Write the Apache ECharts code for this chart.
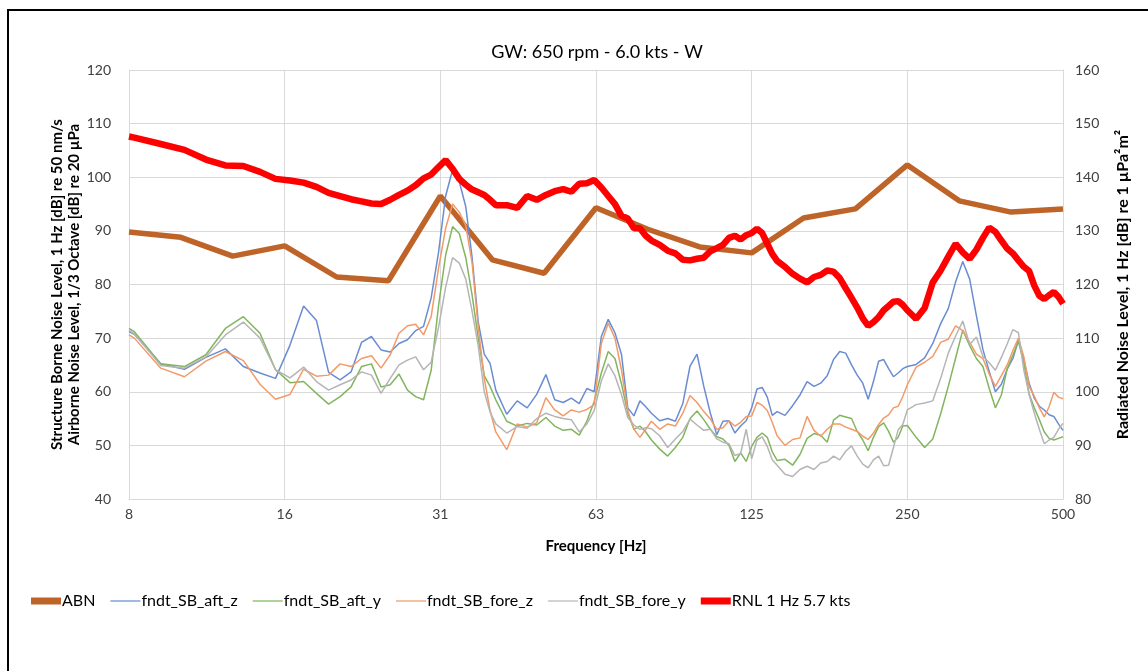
<!DOCTYPE html>
<html>
<head>
<meta charset="utf-8">
<script src="https://cdn.jsdelivr.net/npm/echarts@6/dist/echarts.min.js"></script>
<style>html,body{margin:0;padding:0;background:#fff}#c{width:1148px;height:671px}</style>
</head>
<body>
<div id="c"></div>
<script>
const tickLabels = ['8', '16', '31', '63', '125', '250', '500'];

const abnFreqs = [7.8125, 9.84, 12.4, 15.625, 19.7, 24.8, 31.25, 39.4, 49.6, 62.5, 78.7, 99.2, 125, 157.5, 198.4, 250, 315, 396.9, 500];
const abn = [89.8, 88.8, 85.3, 87.2, 81.4, 80.7, 96.5, 84.6, 82.1, 94.3, 90.3, 87.0, 85.9, 92.4, 94.1, 102.3, 95.6, 93.5, 94.1];

const freqs = [7.8125, 8, 9, 10, 11, 12, 13, 14, 15, 16, 17, 18, 19, 20, 21, 22, 23, 24, 25, 26, 27, 28, 29, 30,
  31, 32, 33, 34, 35, 36, 37, 38, 39, 40, 42, 44, 46, 48, 50, 52, 54, 56, 58, 60, 62, 64, 66, 68, 70, 72, 74, 76, 78, 80,
  83, 86, 89, 92, 95, 98, 101, 104, 107, 110, 113, 116, 119, 122, 125, 128, 131, 134, 137, 140,
  145, 150, 155, 160, 165, 170, 175, 180, 185, 190, 195, 200, 205, 210, 215, 220, 225, 230, 235, 240, 245, 250,
  260, 270, 280, 290, 300, 310, 320, 330, 340, 350, 360, 370, 380, 390, 400, 410, 420, 430, 440, 450, 460, 470, 480, 490, 500];

const aftZ = [71.2, 70.7, 65.2, 64.2, 66.4, 68.0, 64.7, 63.5, 62.5, 68.7, 76.0, 73.3, 63.6, 62.2, 63.7, 69.2, 70.3, 67.8, 67.4, 69.0, 69.7, 71.4, 72.2, 77.5,
  86.0, 96.5, 101.4, 99.2, 94.5, 85.0, 73.0, 67.0, 65.3, 60.3, 55.8, 58.3, 57.0, 59.5, 63.2, 58.5, 58.0, 58.8, 57.8, 60.6, 60.0, 70.3, 73.5, 71.0, 67.0, 57.0, 55.5, 58.3, 57.2, 56.0,
  54.6, 55.0, 54.5, 57.8, 64.8, 67.0, 61.0, 56.0, 52.0, 54.5, 54.6, 52.3, 53.6, 54.6, 57.0, 60.5, 60.8, 59.0, 55.6, 56.3,
  55.6, 57.4, 59.4, 61.9, 61.0, 61.6, 63.0, 66.0, 67.5, 67.2, 65.0, 63.1, 61.6, 58.6, 61.9, 65.7, 66.0, 64.3, 62.8, 63.5, 64.3, 64.7,
  65.1, 66.3, 69.0, 72.7, 75.5, 80.5, 84.3, 81.0, 74.2, 67.9, 63.8, 60.0, 61.4, 64.2, 66.2, 69.6, 66.0, 61.6, 58.8, 57.3, 56.6, 55.7, 55.4, 54.0, 52.8];

const aftY = [71.8, 71.2, 65.2, 64.7, 66.9, 71.8, 74.0, 70.9, 64.1, 61.7, 61.9, 59.7, 57.7, 59.1, 60.9, 64.7, 65.2, 60.9, 61.3, 63.3, 60.3, 59.1, 58.5, 64.0,
  76.0, 85.5, 90.8, 89.5, 85.0, 78.0, 70.0, 63.0, 61.0, 58.5, 54.5, 53.6, 54.1, 53.8, 55.2, 53.6, 52.8, 53.0, 51.9, 54.5, 58.2, 63.5, 67.5, 66.2, 61.5, 56.0, 53.0, 53.6, 52.5, 51.0,
  49.3, 48.0, 49.6, 51.5, 55.0, 56.4, 54.8, 53.0, 51.6, 51.2, 50.0, 47.0, 48.6, 47.0, 49.8, 51.5, 52.3, 51.5, 48.8, 47.2,
  47.4, 46.3, 48.3, 51.3, 52.2, 51.9, 50.6, 54.7, 55.6, 55.3, 55.0, 52.6, 51.0, 49.0, 51.5, 53.5, 54.2, 52.6, 50.6, 51.5, 53.6, 53.7,
  51.5, 49.6, 51.2, 55.9, 61.0, 66.3, 71.5, 68.6, 66.2, 64.7, 60.6, 57.0, 59.4, 64.3, 66.8, 69.4, 65.3, 59.6, 57.0, 54.8, 52.5, 51.3, 51.0, 51.3, 51.6];

const foreZ = [70.6, 70.0, 64.4, 62.8, 65.7, 67.5, 65.8, 61.4, 58.6, 59.5, 64.2, 62.9, 63.1, 65.2, 64.7, 66.2, 66.7, 64.4, 66.9, 70.9, 72.3, 72.6, 70.6, 74.0,
  83.0, 90.5, 95.0, 93.5, 91.0, 84.0, 72.0, 62.5, 56.5, 52.5, 49.2, 54.0, 53.4, 54.2, 58.9, 56.6, 55.5, 56.6, 56.2, 56.7, 57.6, 69.0, 72.8, 70.0, 64.1, 56.5, 53.0, 51.5, 53.0, 54.5,
  53.0, 54.0, 53.6, 56.0, 59.3, 58.0, 56.3, 54.9, 53.0, 53.3, 54.6, 53.6, 54.3, 55.4, 55.5, 58.0, 57.5, 56.5, 54.3, 51.8,
  50.0, 51.1, 51.4, 55.4, 52.8, 51.7, 53.0, 54.0, 54.0, 53.4, 53.0, 52.6, 51.7, 51.1, 52.3, 53.9, 55.1, 55.7, 57.0, 57.3, 59.1, 61.3,
  64.6, 65.5, 66.6, 69.2, 69.8, 72.3, 71.4, 69.2, 67.0, 66.2, 63.3, 61.0, 63.0, 65.0, 67.7, 70.0, 66.5, 61.0, 59.2, 57.0, 55.3, 57.2, 59.9, 59.0, 58.7];

const foreY = [71.5, 70.8, 64.9, 64.4, 66.5, 70.6, 73.0, 70.0, 64.1, 62.6, 64.6, 61.9, 60.3, 61.3, 62.2, 63.7, 63.1, 59.7, 62.5, 65.0, 65.9, 66.5, 64.1, 65.5,
  72.0, 79.5, 85.0, 84.0, 81.0, 75.0, 68.5, 60.0, 56.2, 54.0, 52.3, 53.5, 53.2, 55.0, 56.0, 55.4, 55.0, 54.8, 52.5, 54.0, 56.5, 62.0, 65.2, 63.0, 59.5, 55.2, 53.8, 53.0, 53.3, 53.1,
  51.8, 49.6, 51.2, 52.6, 54.9, 53.8, 52.8, 53.0, 51.2, 50.6, 50.3, 48.1, 48.5, 53.0, 47.5, 51.0, 51.6, 49.8, 47.3, 46.3,
  44.6, 44.2, 45.5, 46.1, 45.5, 46.7, 47.0, 48.0, 47.3, 48.9, 49.9, 48.0, 46.5, 45.8, 47.3, 48.0, 46.2, 46.3, 49.6, 52.9, 53.9, 56.6,
  57.6, 57.9, 58.3, 62.5, 67.2, 70.4, 73.2, 68.8, 70.2, 66.6, 65.4, 64.0, 66.4, 68.9, 71.6, 71.0, 64.0, 59.5, 56.0, 53.0, 50.3, 51.0, 51.5, 53.0, 54.1];

const rnl = [147.6, 147.4, 146.2, 145.1, 143.3, 142.2, 142.1, 141.0, 139.7, 139.4, 139.0, 138.2, 137.1, 136.5, 135.9, 135.5, 135.1, 135.0, 135.8, 136.7, 137.5, 138.5, 139.8, 140.5,
  141.9, 143.2, 141.6, 139.7, 138.6, 137.7, 137.2, 136.7, 135.8, 134.8, 134.8, 134.3, 136.5, 135.8, 136.7, 137.4, 137.8, 137.3, 138.8, 138.9, 139.5, 138.1, 136.5, 135.0, 132.8, 132.3, 130.5, 130.5, 129.1, 128.2,
  127.4, 126.3, 125.8, 124.6, 124.5, 124.8, 125.0, 126.2, 126.8, 127.4, 128.7, 129.1, 128.4, 129.2, 129.6, 130.4, 129.6, 127.6, 125.7, 124.4,
  123.3, 122.0, 121.1, 120.4, 121.4, 121.8, 122.6, 122.4, 121.2, 119.3, 117.5, 115.7, 113.7, 112.3, 113.0, 113.9, 115.2, 116.0, 116.8, 116.9, 116.2, 115.2,
  113.6, 115.6, 120.4, 122.6, 125.2, 127.6, 126.0, 124.8, 126.5, 128.7, 130.6, 129.8, 128.2, 126.7, 125.8, 124.5, 123.3, 122.5, 119.8, 117.9, 117.3, 118.0, 118.6, 117.7, 116.4];

function pairs(xs, ys) { return xs.map((x, i) => [x, ys[i]]); }

const FONT = 'Lato, "Open Sans", sans-serif';
const grayLine = '#D9D9D9';
const labelColor = '#404040';
const thickIcon = 'path://M0,0H30V7H0Z';
const thinIcon = 'path://M0,0H30V1.6H0Z';

const chart = echarts.init(document.getElementById('c'), null, { renderer: 'canvas' });
chart.setOption({
  backgroundColor: '#ffffff',
  animation: false,
  textStyle: { fontFamily: FONT },
  title: {
    text: 'GW: 650 rpm - 6.0 kts - W',
    left: 592, top: 38, textAlign: 'center',
    textStyle: { fontFamily: FONT, fontSize: 18, fontWeight: 'normal', color: '#000' }
  },
  graphic: [
    { type: 'line', shape: { x1: 7, y1: 10, x2: 1148, y2: 10 }, style: { stroke: '#000', lineWidth: 2 } },
    { type: 'line', shape: { x1: 8, y1: 10, x2: 8, y2: 671 }, style: { stroke: '#000', lineWidth: 2 } }
  ],
  legend: {
    left: 26, top: 588,
    itemWidth: 30, itemHeight: 10, itemGap: 15, symbolKeepAspect: true,
    textStyle: { fontFamily: FONT, fontSize: 16, color: '#000', padding: [0, 0, 0, -4] },
    data: [
      { name: 'ABN', icon: thickIcon },
      { name: 'fndt_SB_aft_z', icon: thinIcon },
      { name: 'fndt_SB_aft_y', icon: thinIcon },
      { name: 'fndt_SB_fore_z', icon: thinIcon },
      { name: 'fndt_SB_fore_y', icon: thinIcon },
      { name: 'RNL 1 Hz 5.7 kts', icon: thickIcon }
    ]
  },
  grid: { left: 129, right: 85, top: 70, bottom: 172, containLabel: false },
  xAxis: [
    {
      type: 'log', logBase: 2, min: 7.8125, max: 500,
      axisLine: { show: false }, axisTick: { show: false }, axisLabel: { show: false }, splitLine: { show: false }
    },
    {
      type: 'value', min: 0, max: 6, interval: 1, position: 'bottom',
      name: 'Frequency [Hz]', nameLocation: 'middle', nameGap: 40,
      nameTextStyle: { fontFamily: FONT, fontSize: 15, fontWeight: 'bold', color: '#000' },
      axisLine: { show: true, lineStyle: { color: grayLine, width: 1 } },
      axisTick: { show: false },
      axisLabel: { fontFamily: FONT, fontSize: 14, color: labelColor, margin: 8, formatter: v => tickLabels[Math.round(v)] },
      splitLine: { show: true, lineStyle: { color: grayLine, width: 1 } }
    }
  ],
  yAxis: [
    {
      type: 'value', min: 40, max: 120, interval: 10, position: 'left',
      name: 'Structure Borne Noise Level, 1 Hz [dB] re 50 nm/s\nAirborne Noise Level, 1/3 Octave [dB] re 20 µPa',
      nameLocation: 'middle', nameGap: 46, nameRotate: 90, nameMoveOverlap: false,
      nameTextStyle: { fontFamily: FONT, fontSize: 15, fontWeight: 'bold', color: '#000', lineHeight: 17 },
      axisLine: { show: true, lineStyle: { color: grayLine } },
      axisTick: { show: false },
      axisLabel: { fontFamily: FONT, fontSize: 14, color: labelColor, margin: 18 },
      splitLine: { show: true, lineStyle: { color: grayLine, width: 1 } }
    },
    {
      type: 'value', min: 80, max: 160, interval: 10, position: 'right',
      name: 'Radiated Noise Level, 1 Hz [dB] re 1 µPa²m²',
      nameLocation: 'middle', nameGap: 52, nameRotate: 90,
      nameTextStyle: { fontFamily: FONT, fontSize: 16, fontWeight: 'bold', color: '#000' },
      axisLine: { show: true, lineStyle: { color: grayLine } },
      axisTick: { show: false },
      axisLabel: { fontFamily: FONT, fontSize: 14, color: labelColor, margin: 12 },
      splitLine: { show: false }
    }
  ],
  series: [
    { name: 'ABN', type: 'line', xAxisIndex: 0, yAxisIndex: 0, data: pairs(abnFreqs, abn), showSymbol: false, symbol: 'none',
      lineStyle: { color: '#BE6428', width: 5.5 }, itemStyle: { color: '#BE6428' }, z: 2 },
    { name: 'fndt_SB_aft_z', type: 'line', xAxisIndex: 0, yAxisIndex: 0, data: pairs(freqs, aftZ), showSymbol: false, symbol: 'none',
      lineStyle: { color: '#6A8CD2', width: 1.5 }, itemStyle: { color: '#8AA6DE' }, z: 3 },
    { name: 'fndt_SB_aft_y', type: 'line', xAxisIndex: 0, yAxisIndex: 0, data: pairs(freqs, aftY), showSymbol: false, symbol: 'none',
      lineStyle: { color: '#82B55E', width: 1.5 }, itemStyle: { color: '#9CC782' }, z: 3 },
    { name: 'fndt_SB_fore_z', type: 'line', xAxisIndex: 0, yAxisIndex: 0, data: pairs(freqs, foreZ), showSymbol: false, symbol: 'none',
      lineStyle: { color: '#F29A68', width: 1.5 }, itemStyle: { color: '#F5B08A' }, z: 3 },
    { name: 'fndt_SB_fore_y', type: 'line', xAxisIndex: 0, yAxisIndex: 0, data: pairs(freqs, foreY), showSymbol: false, symbol: 'none',
      lineStyle: { color: '#B5B5B5', width: 1.5 }, itemStyle: { color: '#C8C8C8' }, z: 3 },
    { name: 'RNL 1 Hz 5.7 kts', type: 'line', xAxisIndex: 0, yAxisIndex: 1, data: pairs(freqs, rnl), showSymbol: false, symbol: 'none',
      lineStyle: { color: '#FF0000', width: 6.5 }, itemStyle: { color: '#FF0000' }, z: 4 }
  ]
});
</script>
</body>
</html>
